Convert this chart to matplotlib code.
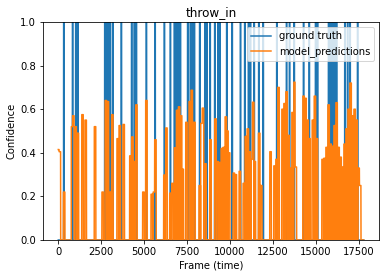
import numpy as np
import matplotlib
matplotlib.use("Agg")
import matplotlib.pyplot as plt
from typing import List

# number of frames in the clip
num_frames: int = 17800

# frames where the ground truth marks a throw_in event
gt_frames: List[int] = [
    321, 834, 1021, 1138, 2712, 2817, 2934, 3033, 3179, 3675,
    4276, 4433, 4550, 5133, 5640, 6183, 6533, 6767, 6883, 7000,
    7117, 7542, 7700, 7817, 7933, 8242, 8546, 8663, 8848, 9119,
    9304, 9421, 9817, 10133, 10617, 10867, 11083, 11200, 11415, 11684,
    11941, 12734, 13300, 13475, 13748, 14292, 14625, 14992, 15108, 15750,
    15867, 15983, 16100, 16217, 16700, 16858, 17004, 17442,
]

# peaks of the model confidence (frame, value)
pred_frames: List[int] = [
    0, 90, 340, 800, 875, 1010, 1140, 1410, 1595, 2140,
    2585, 2770, 2890, 3050, 3150, 3460, 3580, 3810,
    4200, 4317, 4433, 4550, 4958, 5133, 5445, 5570, 5658, 6183,
    6300, 6533, 6650, 6805, 6922, 7040, 7157, 7250, 7467, 7660,
    7777, 7933, 8242, 8342, 8430, 8575,
    8867, 9158, 9293, 9410, 9527, 9643, 9760, 9858, 9955, 10227,
    10343, 10577, 10810, 10927, 11043, 11160, 11277, 11357, 11452, 11707,
    11823, 12367, 12600, 12717, 12833, 13067, 13183, 13300, 13420, 13540,
    13650, 13767, 13840, 14292, 14408, 14525, 14642, 14835, 14952, 15068,
    15400, 15517, 15633, 15750, 15867, 15983, 16100, 16217, 16333, 16450,
    16567, 16683, 16800, 16917, 17033, 17150, 17267, 17383, 17500, 17590,
]
pred_values: List[float] = [
    0.415, 0.405, 0.22, 0.52, 0.57, 0.52, 0.49, 0.575, 0.55, 0.52,
    0.22, 0.64, 0.635, 0.22, 0.575, 0.465, 0.525, 0.53,
    0.386, 0.473, 0.36, 0.62, 0.22, 0.64, 0.21, 0.22, 0.46, 0.298,
    0.514, 0.215, 0.26, 0.423, 0.595, 0.611, 0.57, 0.325, 0.54, 0.635,
    0.687, 0.54, 0.25, 0.535, 0.605, 0.35,
    0.46, 0.556, 0.36, 0.355, 0.42, 0.425, 0.565, 0.50, 0.40, 0.307,
    0.30, 0.315, 0.26, 0.475, 0.51, 0.405, 0.37, 0.632, 0.36, 0.49,
    0.25, 0.405, 0.34, 0.37, 0.70, 0.60, 0.626, 0.68, 0.48, 0.33,
    0.585, 0.724, 0.335, 0.66, 0.65, 0.55, 0.465, 0.55, 0.66, 0.465,
    0.37, 0.375, 0.425, 0.62, 0.44, 0.43, 0.525, 0.63, 0.425, 0.38,
    0.335, 0.44, 0.51, 0.60, 0.72, 0.57, 0.60, 0.55, 0.33, 0.25,
]


def build_series(frames: List[int], values: List[float], half_width: int) -> np.ndarray:
    """Put each event into a per-frame array."""
    series = np.zeros(num_frames)
    for f, v in zip(frames, values):
        series[max(f - half_width, 0):f + half_width] = v
    return series


def main() -> None:
    ground_truth = build_series(gt_frames, [1.0] * len(gt_frames), 15)
    predictions = build_series(pred_frames, pred_values, 45)

    fig = plt.figure(figsize=(386 / 72, 278 / 72), dpi=72)
    ax = fig.add_axes([43 / 386, 38 / 278, 336 / 386, 218 / 278])
    ax.plot(ground_truth, label="ground truth")
    ax.plot(predictions, label="model_predictions")
    ax.set_ylim(0, 1)
    ax.set_xlabel("Frame (time)")
    ax.set_ylabel("Confidence")
    ax.set_title("throw_in")
    ax.legend(loc="upper right")
    fig.savefig("out.png", dpi=72)
    plt.close(fig)


if __name__ == "__main__":
    main()
